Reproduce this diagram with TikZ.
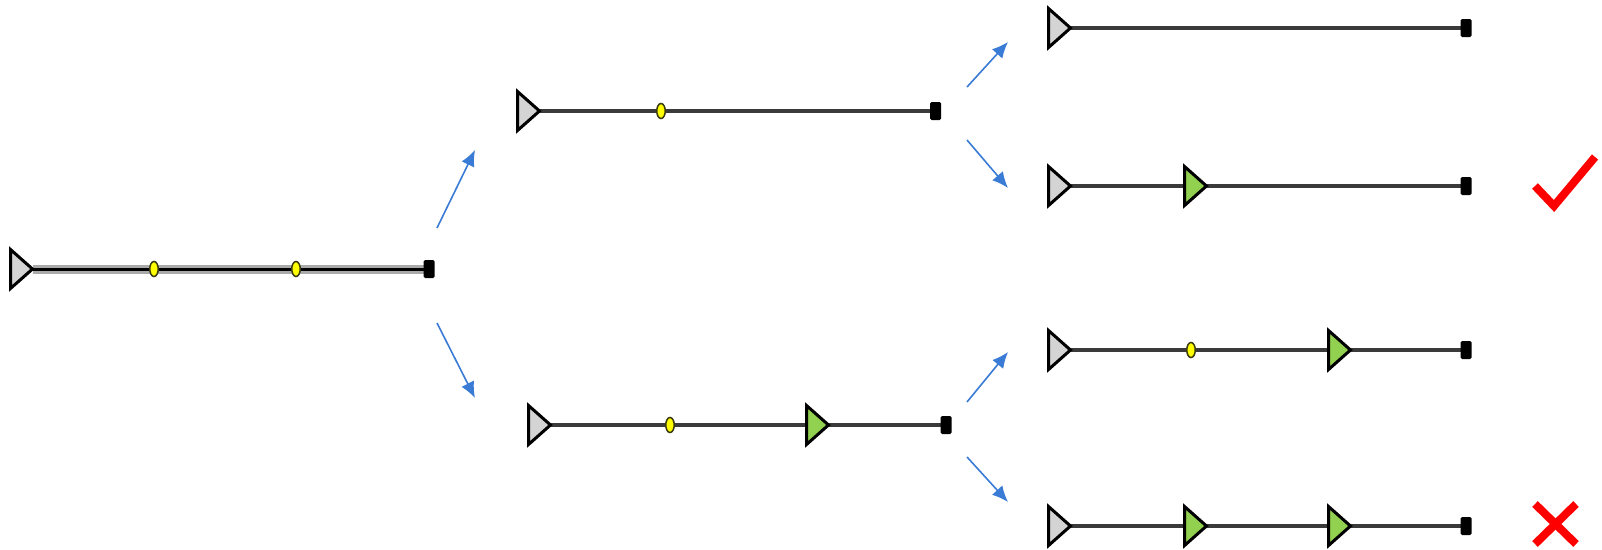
\documentclass[tikz,border=0pt]{standalone}
\usetikzlibrary{shapes.geometric,arrows.meta,backgrounds}
\definecolor{trigray}{HTML}{D4D4D4}
\definecolor{trigreen}{HTML}{92D050}
\definecolor{linegray}{HTML}{3A3A3A}
\definecolor{halogray}{HTML}{AAAAAA}
\definecolor{arrblue}{HTML}{3A7BD5}
\definecolor{dotyellow}{HTML}{FFFF00}
\definecolor{dotedge}{HTML}{3A3A10}
\definecolor{verdictred}{HTML}{FF0000}
\tikzset{
  tribase/.style={isosceles triangle, isosceles triangle stretches, shape border rotate=0,
    minimum width=39pt, minimum height=22pt, inner sep=0pt, outer sep=0pt,
    draw=black, line width=3pt, anchor=lower side},
  srctri/.style={tribase, fill=trigray},
  oktri/.style={tribase, fill=trigreen},
  ydot/.style={ellipse, minimum width=8.5pt, minimum height=15pt, inner sep=0pt,
    draw=dotedge, line width=1.5pt, fill=dotyellow},
  endsq/.style={rectangle, minimum width=11pt, minimum height=18pt, inner sep=0pt,
    fill=black, rounded corners=1.5pt},
  wire/.style={draw=linegray, line width=4pt},
  halo/.style={draw=halogray, line width=9pt},
  corewire/.style={draw=black, line width=3pt},
  flow/.style={draw=arrblue, line width=1.6pt, -{Latex[length=16pt,width=14pt]}},
  verdict/.style={draw=verdictred, line width=8pt}
}
\begin{document}
\begin{tikzpicture}[x=1pt,y=-1pt]
\useasboundingbox (0,0) rectangle (1602,549);

% left row
\node[srctri] (l0) at (10.5,269) {};
\node[ydot] (l1) at (154,269) {};
\node[ydot] (l2) at (296,269) {};
\node[endsq] (le) at (429,269) {};

% middle top
\node[srctri] (m0) at (517.5,111) {};
\node[ydot] (m1) at (661,111) {};
\node[endsq] (me) at (935.5,111) {};

% middle bottom
\node[srctri] (n0) at (528.5,425) {};
\node[ydot] (n1) at (670,425) {};
\node[oktri] (n2) at (806.5,425) {};
\node[endsq] (ne) at (946,425) {};

% right A
\node[srctri] (a0) at (1048.5,28) {};
\node[endsq] (ae) at (1466,28) {};

% right B
\node[srctri] (b0) at (1048.5,186) {};
\node[oktri] (b1) at (1184.5,186) {};
\node[endsq] (be) at (1466,186) {};

% right C
\node[srctri] (c0) at (1048.5,350) {};
\node[ydot] (c1) at (1191,350) {};
\node[oktri] (c2) at (1328.5,350) {};
\node[endsq] (ce) at (1466,350) {};

% right D
\node[srctri] (d0) at (1048.5,526) {};
\node[oktri] (d1) at (1184.5,526) {};
\node[oktri] (d2) at (1328.5,526) {};
\node[endsq] (de) at (1466,526) {};

\begin{scope}[on background layer]
  \draw[halo] (l0.apex) -- (le.center);
  \draw[corewire] (l0.apex) -- (le.center);
  \draw[wire] (m0.apex) -- (me.center);
  \draw[wire] (n0.apex) -- (ne.center);
  \draw[wire] (a0.apex) -- (ae.center);
  \draw[wire] (b0.apex) -- (be.center);
  \draw[wire] (c0.apex) -- (ce.center);
  \draw[wire] (d0.apex) -- (de.center);
\end{scope}

% arrows
\coordinate (f1s) at (437,228); \coordinate (f1e) at (475,150);
\coordinate (f2s) at (437,323); \coordinate (f2e) at (475,398);
\coordinate (f3s) at (967,87);  \coordinate (f3e) at (1008,42);
\coordinate (f4s) at (967,140); \coordinate (f4e) at (1008,188);
\coordinate (f5s) at (967,402); \coordinate (f5e) at (1008,352);
\coordinate (f6s) at (967,457); \coordinate (f6e) at (1008,502);
\draw[flow] (f1s) -- (f1e);
\draw[flow] (f2s) -- (f2e);
\draw[flow] (f3s) -- (f3e);
\draw[flow] (f4s) -- (f4e);
\draw[flow] (f5s) -- (f5e);
\draw[flow] (f6s) -- (f6e);

% check and cross
\coordinate (k1) at (1535,186); \coordinate (k2) at (1554,206); \coordinate (k3) at (1595,157);
\draw[verdict] (k1) -- (k2) -- (k3);
\coordinate (x1) at (1535,504); \coordinate (x2) at (1576,544);
\coordinate (x3) at (1576,504); \coordinate (x4) at (1535,544);
\draw[verdict] (x1) -- (x2);
\draw[verdict] (x3) -- (x4);
\end{tikzpicture}
\end{document}
